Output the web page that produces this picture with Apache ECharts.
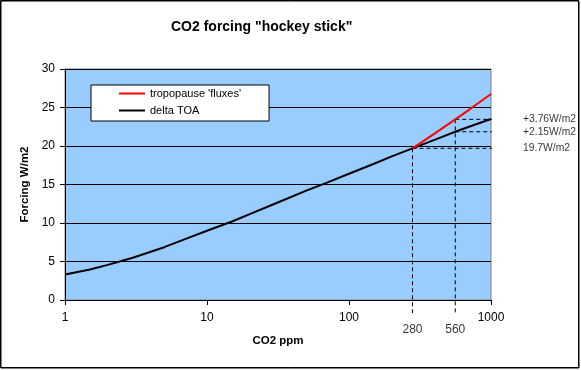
<!DOCTYPE html>
<html>
<head>
<meta charset="utf-8">
<script src="https://cdn.jsdelivr.net/npm/echarts@6/dist/echarts.min.js"></script>
<style>
html,body{margin:0;padding:0;background:#fff;}
#chart{width:581px;height:370px;}
</style>
</head>
<body>
<div id="chart"></div>
<script>
// ---- data ----
const ppm = [1, 1.5, 2, 3, 5, 7, 10, 15, 20, 30, 50, 70, 100, 150, 200, 280, 400, 560, 700, 1000];
const deltaTOA = [3.3, 3.97, 4.56, 5.49, 6.86, 7.91, 9.0, 10.2, 11.15, 12.5, 14.2, 15.25, 16.4, 17.7, 18.65, 19.7, 20.8, 21.85, 22.5, 23.5];
const tropoPPM = [280, 400, 560, 700, 1000];
const tropoFlux = [19.7, 21.6, 23.46, 24.7, 26.75];
const xTicks = [1, 10, 100, 1000];
const yTicks = [0, 5, 10, 15, 20, 25, 30];
// reference markers
const markPPM = [280, 560];
const markTop = [19.7, 23.46];
const markLabels = ['280', '560'];
const levelStartPPM = [280, 560, 560];
const levelValues = [19.7, 21.85, 23.46];
const levelLabels = ['19.7W/m2', '+2.15W/m2', '+3.76W/m2'];
const levelEndPPM = 1550;   // dashed leader lines run past the plot edge
const markBottom = -1.7;    // vertical leaders run below the x axis

const chart = echarts.init(document.getElementById('chart'));
const font = 'Arial, "Liberation Sans", sans-serif';
const dashed = { color: '#000', width: 1, type: [4, 3] };

const series = [];
markPPM.forEach((p, i) => {
  series.push({
    type: 'line', name: 'v' + i, data: [[p, markTop[i]], [p, markBottom]],
    showSymbol: false, clip: false, lineStyle: dashed, silent: true, z: 1, animation: false
  });
});
levelValues.forEach((v, i) => {
  series.push({
    type: 'line', name: 'h' + i, data: [[levelStartPPM[i], v], [levelEndPPM, v]],
    showSymbol: false, clip: false, lineStyle: dashed, silent: true, z: 1, animation: false
  });
});
series.push({
  type: 'scatter', name: 'levelText', clip: false, symbolSize: 0, silent: true, animation: false,
  data: levelValues.map((v, i) => ({
    value: [levelEndPPM, v],
    label: { show: true, position: 'right', distance: 5, formatter: levelLabels[i],
      color: '#000', fontFamily: font, fontSize: 10.3 }
  }))
});
series.push({
  type: 'scatter', name: 'markText', clip: false, symbolSize: 0, silent: true, animation: false,
  data: markPPM.map((p, i) => ({
    value: [p, markBottom],
    label: { show: true, position: 'bottom', distance: 11, formatter: markLabels[i],
      color: '#000', fontFamily: font, fontSize: 12 }
  }))
});
series.push({
  type: 'line', name: 'delta TOA', data: ppm.map((p, i) => [p, deltaTOA[i]]),
  showSymbol: false, lineStyle: { color: '#000', width: 2 }, itemStyle: { color: '#000' }, z: 3, animation: false
});
series.push({
  type: 'line', name: "tropopause 'fluxes'", data: tropoPPM.map((p, i) => [p, tropoFlux[i]]),
  showSymbol: false, lineStyle: { color: '#ff0000', width: 2 }, itemStyle: { color: '#ff0000' }, z: 4, animation: false
});

chart.setOption({
  animation: false,
  backgroundColor: '#fff',
  title: {
    text: 'CO2 forcing "hockey stick"', left: 166, top: 15,
    textStyle: { fontFamily: font, fontSize: 14, fontWeight: 'bold', color: '#000' }
  },
  legend: {
    data: ["tropopause 'fluxes'", 'delta TOA'],
    orient: 'vertical', left: 91, top: 85,
    backgroundColor: '#fff', borderColor: '#000', borderWidth: 1,
    padding: [3, 28, 5, 28], itemGap: 6,
    icon: 'rect', itemWidth: 26, itemHeight: 2,
    textStyle: { fontFamily: font, fontSize: 11, color: '#000', width: 92, overflow: 'none' }
  },
  grid: {
    left: 65, right: 90, top: 69, bottom: 70,
    show: true, backgroundColor: '#99ccff', borderColor: '#808080', borderWidth: 1
  },
  xAxis: {
    type: 'log', logBase: 10, min: xTicks[0], max: xTicks[xTicks.length - 1],
    name: 'CO2 ppm', nameLocation: 'middle', nameGap: 35,
    nameTextStyle: { fontFamily: font, fontSize: 11.5, fontWeight: 'bold', color: '#000' },
    axisLine: { show: true, lineStyle: { color: '#000', width: 1 } },
    axisTick: { show: true, length: 5, lineStyle: { color: '#000' } },
    minorTick: { show: false },
    splitLine: { show: false },
    axisLabel: { fontFamily: font, fontSize: 12, color: '#000', margin: 12,
      formatter: v => (xTicks.indexOf(Math.round(v)) >= 0 ? String(Math.round(v)) : '') }
  },
  yAxis: {
    type: 'value', min: yTicks[0], max: yTicks[yTicks.length - 1], interval: 5,
    name: 'Forcing W/m2', nameLocation: 'middle', nameGap: 31, nameRotate: 90,
    nameTextStyle: { fontFamily: font, fontSize: 11.5, fontWeight: 'bold', color: '#000' },
    axisLine: { show: true, lineStyle: { color: '#000', width: 1 } },
    axisTick: { show: true, length: 5, lineStyle: { color: '#000' } },
    splitLine: { show: true, lineStyle: { color: '#000', width: 1 } },
    axisLabel: { fontFamily: font, fontSize: 12, color: '#000', margin: 10 }
  },
  graphic: [
    { type: 'rect', silent: true, z: 100, shape: { x: 0.5, y: 0.5, width: 578, height: 367 },
      style: { fill: 'none', stroke: '#000', lineWidth: 1 } },
    { type: 'rect', silent: true, z: 100, shape: { x: 1, y: 1, width: 578, height: 367 },
      style: { fill: 'none', stroke: '#000', lineWidth: 1 } }
  ],
  series: series
});
</script>
</body>
</html>
